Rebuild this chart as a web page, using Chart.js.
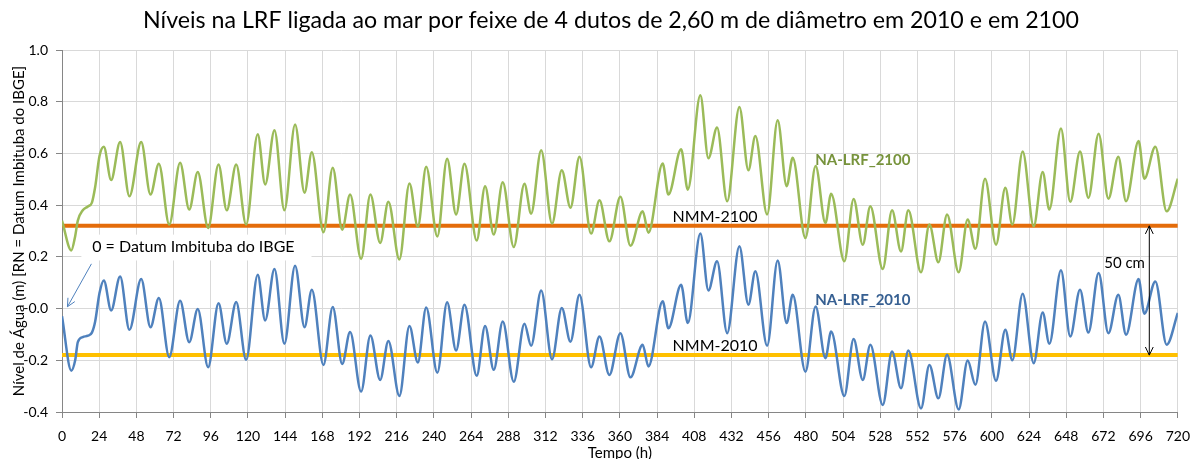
<!DOCTYPE html>
<html>
<head>
<meta charset="utf-8">
<script src="https://cdn.jsdelivr.net/npm/chart.js@4.4.1/dist/chart.umd.min.js"></script>
<style>
body { margin: 0; background: #fff; }
</style>
</head>
<body>
<canvas id="levelsChart" width="1200" height="459"></canvas>
<script>
// turning points of the two curves (hours, metres)
var hours = [0, 6, 8.5, 10.2, 13.4, 16.7, 19.3, 21.4, 24.2, 27,
  31.7, 37.5, 43.5, 51.1, 57.1, 62.5, 69.2, 76.2, 82.1, 87.6,
  94.3, 101, 106.3, 112.4, 118.8, 126.3, 131.1, 137.1, 143.5, 150.4,
  156.5, 161.2, 168.7, 174.7, 180.8, 185.9, 193, 199, 205.3, 210.6,
  217.7, 224.2, 229.6, 235, 242.2, 248.5, 254.3, 259.7, 267.6, 273,
  278.6, 284.4, 291.5, 298.4, 302.7, 309.2, 316.2, 322.5, 328.1, 333.9,
  341.4, 346.8, 353.2, 360.3, 366.8, 374.7, 378.4, 387.6, 391.3, 399.5,
  403.8, 411.9, 417.1, 422.7, 429.2, 437.1, 442.9, 447.4, 455, 461.8,
  467.6, 471.5, 479.7, 486.3, 492.6, 496.3, 504.8, 510.8, 516.7, 521.6,
  529.6, 535.6, 541.4, 546.1, 554.3, 559.7, 565.5, 571.1, 578.6, 584.4,
  589.4, 595.6, 602.7, 608.7, 613.2, 619.9, 627, 632.8, 637.1, 644.6,
  650.6, 656.9, 662.3, 668.9, 675.2, 681.6, 686.6, 694.7, 698.4, 705.5,
  712.8, 720];

var level2010 = [-0.03, -0.24, -0.20, -0.13, -0.11, -0.105, -0.093, -0.05, 0.06, 0.109,
  -0.007, 0.124, -0.082, 0.114, -0.072, 0.041, -0.188, 0.03, -0.13, -0.002,
  -0.227, 0.021, -0.136, 0.025, -0.198, 0.131, -0.046, 0.153, -0.136, 0.166,
  -0.072, 0.073, -0.218, 0.006, -0.214, -0.091, -0.321, -0.104, -0.276, -0.125,
  -0.338, -0.067, -0.209, 0.004, -0.248, 0.024, -0.162, 0.015, -0.26, -0.067,
  -0.237, -0.05, -0.283, -0.059, -0.144, 0.07, -0.196, 0.002, -0.128, 0.053,
  -0.227, -0.108, -0.257, -0.095, -0.266, -0.14, -0.224, 0.028, -0.076, 0.092,
  -0.056, 0.29, 0.07, 0.183, -0.095, 0.241, 0.015, 0.144, -0.144, 0.186,
  -0.056, 0.053, -0.244, 0.008, -0.192, -0.089, -0.338, -0.118, -0.276, -0.14,
  -0.373, -0.166, -0.308, -0.162, -0.386, -0.218, -0.347, -0.179, -0.39, -0.201,
  -0.295, -0.05, -0.279, -0.082, -0.2, 0.057, -0.211, -0.015, -0.136, 0.148,
  -0.108, 0.073, -0.093, 0.138, -0.095, 0.053, -0.101, 0.114, -0.02, 0.105,
  -0.14, -0.017];

var level2100 = [0.34, 0.225, 0.28, 0.34, 0.38, 0.395, 0.41, 0.47, 0.59, 0.626,
  0.497, 0.644, 0.434, 0.644, 0.441, 0.56, 0.325, 0.564, 0.383, 0.528,
  0.312, 0.557, 0.38, 0.557, 0.325, 0.674, 0.48, 0.69, 0.38, 0.712,
  0.448, 0.605, 0.295, 0.545, 0.305, 0.441, 0.192, 0.441, 0.254, 0.413,
  0.19, 0.484, 0.316, 0.548, 0.279, 0.579, 0.364, 0.56, 0.263, 0.473,
  0.286, 0.489, 0.238, 0.483, 0.367, 0.612, 0.329, 0.535, 0.39, 0.587,
  0.29, 0.419, 0.26, 0.432, 0.243, 0.376, 0.293, 0.561, 0.441, 0.616,
  0.46, 0.825, 0.581, 0.70, 0.415, 0.78, 0.535, 0.667, 0.364, 0.728,
  0.473, 0.583, 0.273, 0.551, 0.331, 0.444, 0.183, 0.424, 0.247, 0.396,
  0.153, 0.38, 0.221, 0.38, 0.14, 0.325, 0.179, 0.364, 0.14, 0.344,
  0.231, 0.502, 0.247, 0.467, 0.325, 0.607, 0.318, 0.528, 0.383, 0.696,
  0.413, 0.607, 0.428, 0.676, 0.425, 0.587, 0.415, 0.648, 0.502, 0.626,
  0.376, 0.502];

// mean sea level lines
var nmm2010 = -0.18;
var nmm2100 = 0.32;
var hourRange = [0, 720];

var fontName = 'Lato, "Open Sans", sans-serif';

function toPoints(xs, ys) {
  return xs.map(function (x, i) { return { x: x, y: ys[i] }; });
}

function flatLine(v) {
  return hourRange.map(function (h) { return { x: h, y: v }; });
}

function arrowHead(ctx, x1, y1, x2, y2, size) {
  var a = Math.atan2(y2 - y1, x2 - x1);
  ctx.beginPath();
  ctx.moveTo(x2 - size * Math.cos(a - 0.45), y2 - size * Math.sin(a - 0.45));
  ctx.lineTo(x2, y2);
  ctx.lineTo(x2 - size * Math.cos(a + 0.45), y2 - size * Math.sin(a + 0.45));
  ctx.stroke();
}

// white box behind the datum note, drawn before the curves
var datumBox = {
  id: 'datumBox',
  beforeDatasetsDraw: function (chart) {
    var ctx = chart.ctx;
    var xs = chart.scales.x, ys = chart.scales.y;
    var x1 = xs.getPixelForValue(12.5), x2 = xs.getPixelForValue(161);
    var y1 = ys.getPixelForValue(0.286), y2 = ys.getPixelForValue(0.186);
    ctx.save();
    ctx.fillStyle = '#fff';
    ctx.fillRect(x1, y1, x2 - x1, y2 - y1);
    ctx.restore();
  }
};

// title, axis titles and the notes written on the plot
var notes = {
  id: 'notes',
  afterDraw: function (chart) {
    var ctx = chart.ctx;
    var xs = chart.scales.x, ys = chart.scales.y;
    var area = chart.chartArea;
    function px(h) { return xs.getPixelForValue(h); }
    function py(v) { return ys.getPixelForValue(v); }
    ctx.save();

    // title, fitted to the width it has in the original
    var title = 'Níveis na LRF ligada ao mar por feixe de 4 dutos de 2,60 m de diâmetro em 2010 e em 2100';
    ctx.font = '22px ' + fontName;
    var w = ctx.measureText(title).width;
    ctx.font = (22 * 937 / w).toFixed(1) + 'px ' + fontName;
    ctx.fillStyle = '#000';
    ctx.textAlign = 'center';
    ctx.textBaseline = 'middle';
    ctx.fillText(title, 611, 21);

    // axis titles
    ctx.font = '15px ' + fontName;
    ctx.fillText('Tempo (h)', (area.left + area.right) / 2, 453);
    ctx.save();
    ctx.translate(19, (area.top + area.bottom) / 2);
    ctx.rotate(-Math.PI / 2);
    ctx.fillText('Nível de Água (m) [RN = Datum Imbituba do IBGE]', 0, 0);
    ctx.restore();

    // datum note and pointer
    ctx.fillStyle = '#000';
    ctx.textAlign = 'left';
    ctx.textBaseline = 'alphabetic';
    ctx.font = '16px ' + fontName;
    ctx.fillText('0 = Datum Imbituba do IBGE', px(19.5), py(0.22));
    ctx.strokeStyle = '#4F81BD';
    ctx.lineWidth = 1;
    ctx.beginPath();
    ctx.moveTo(px(19), py(0.173));
    ctx.lineTo(px(3.5), py(0.007));
    ctx.stroke();
    arrowHead(ctx, px(19), py(0.173), px(3.5), py(0.007), 9);

    // mean level labels
    ctx.font = '16px ' + fontName;
    ctx.fillText('NMM-2100', px(394), py(0.336));
    ctx.fillText('NMM-2010', px(394), py(-0.164));

    // series labels
    ctx.font = 'bold 15px ' + fontName;
    ctx.fillStyle = '#77933C';
    ctx.fillText('NA-LRF_2100', px(486), py(0.557));
    ctx.fillStyle = '#376092';
    ctx.fillText('NA-LRF_2010', px(486), py(0.014));

    // 50 cm span between the two mean levels
    ctx.fillStyle = '#000';
    ctx.font = '15px ' + fontName;
    ctx.fillText('50 cm', px(672.5), py(0.158));
    ctx.strokeStyle = '#000';
    var ax = px(701.6);
    ctx.beginPath();
    ctx.moveTo(ax, py(nmm2100));
    ctx.lineTo(ax, py(nmm2010));
    ctx.stroke();
    arrowHead(ctx, ax, py(nmm2010) + 20, ax, py(nmm2100), 9);
    arrowHead(ctx, ax, py(nmm2100) - 20, ax, py(nmm2010), 9);

    ctx.restore();
  }
};

var levelsChart = new Chart(document.getElementById('levelsChart').getContext('2d'), {
  type: 'line',
  data: {
    datasets: [
      {
        label: 'NA-LRF_2100',
        data: toPoints(hours, level2100),
        borderColor: '#9BBB59',
        borderWidth: 2.5,
        pointRadius: 0,
        cubicInterpolationMode: 'monotone',
        order: 0
      },
      {
        label: 'NA-LRF_2010',
        data: toPoints(hours, level2010),
        borderColor: '#4F81BD',
        borderWidth: 2.5,
        pointRadius: 0,
        cubicInterpolationMode: 'monotone',
        order: 0
      },
      {
        label: 'NMM-2100',
        data: flatLine(nmm2100),
        borderColor: '#E46C0A',
        borderWidth: 4,
        pointRadius: 0,
        order: 1
      },
      {
        label: 'NMM-2010',
        data: flatLine(nmm2010),
        borderColor: '#FFC000',
        borderWidth: 4,
        pointRadius: 0,
        order: 1
      }
    ]
  },
  options: {
    responsive: false,
    animation: false,
    layout: { padding: { top: 50, right: 20, left: 0, bottom: 0 } },
    plugins: {
      legend: { display: false },
      tooltip: { enabled: false }
    },
    scales: {
      x: {
        type: 'linear',
        min: 0,
        max: 720,
        ticks: {
          stepSize: 24,
          autoSkip: false,
          maxRotation: 0,
          padding: 10,
          color: '#000',
          font: { family: fontName, size: 14 }
        },
        grid: { color: '#D9D9D9', tickColor: '#868686', tickLength: 6 },
        border: { color: '#868686' },
        afterFit: function (s) { s.height = 47; }
      },
      y: {
        min: -0.4,
        max: 1.0,
        ticks: {
          stepSize: 0.2,
          padding: 8,
          color: '#000',
          font: { family: fontName, size: 14 },
          callback: function (v) { return v.toFixed(1); }
        },
        grid: { color: '#D9D9D9', tickColor: '#868686', tickLength: 6 },
        border: { color: '#868686' },
        afterFit: function (s) { s.width = 62; }
      }
    }
  },
  plugins: [datumBox, notes]
});
</script>
</body>
</html>
